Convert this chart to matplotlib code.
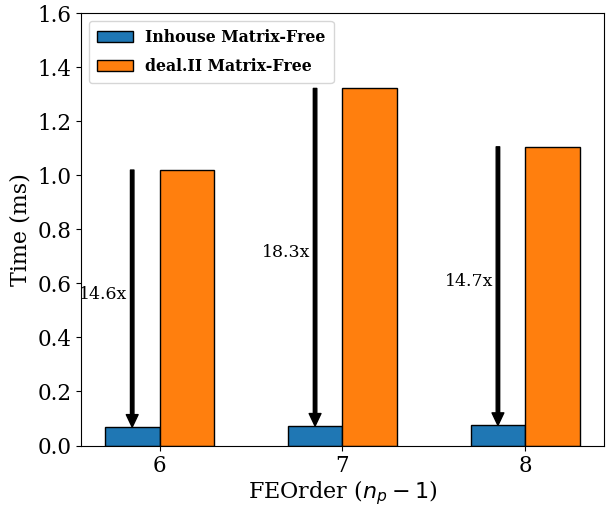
import matplotlib
matplotlib.use("Agg")
import matplotlib.pyplot as plt
import numpy as np

plt.rcParams['font.family'] = ['DejaVu Serif']
plt.rcParams['mathtext.fontset'] = 'dejavusans'

orders = [6, 7, 8]
inhouse = [0.068, 0.072, 0.0745]
dealii = [1.019, 1.321, 1.105]
speedup_labels = ["14.6x", "18.3x", "14.7x"]

fig = plt.figure(figsize=(6.13, 5.09), dpi=100)
ax = fig.add_axes([81/613, 1-445.5/509, (604-81)/613, (445.5-13)/509])

x = np.array(orders, dtype=float)
w = 0.3
ax.bar(x - w/2, inhouse, w, color='#1f77b4', edgecolor='black', linewidth=1, label='Inhouse Matrix-Free')
ax.bar(x + w/2, dealii, w, color='#ff7f0e', edgecolor='black', linewidth=1, label='deal.II Matrix-Free')

for xi, a, b, lab in zip(x, inhouse, dealii, speedup_labels):
    ax.annotate('', xy=(xi - w/2, a), xytext=(xi - w/2, b),
                arrowprops=dict(facecolor='black', edgecolor='black', width=2.5, headwidth=8.5, headlength=9))
    ax.text(xi - w/2 - 0.025, (a + b) / 2, lab, ha='right', va='baseline', fontsize=12.5)

ax.set_ylim(0, 1.6)
ax.set_xticks(orders)
ax.set_xticklabels([str(o) for o in orders])
ax.tick_params(axis='both', labelsize=15.5)
ax.set_ylabel('Time (ms)', fontsize=16)
ax.set_xlabel(r'FEOrder ($n_p - 1$)', fontsize=16, labelpad=1)
ax.legend(loc='upper left', prop={'weight': 'bold', 'size': 11.3},
          labelspacing=0.8, handlelength=2.3, borderpad=0.5)

fig.savefig('out.png', dpi=100)
